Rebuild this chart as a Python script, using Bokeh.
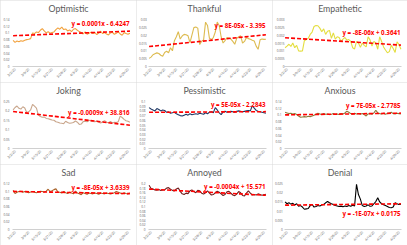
import math
import numpy as np
from bokeh.plotting import figure
from bokeh.layouts import gridplot
from bokeh.models import Range1d
from bokeh.core.properties import value
from bokeh.embed import file_html
from bokeh.resources import INLINE

date_labels = ["3/2/20", "3/9/20", "3/15/20", "3/21/20", "3/28/20",
               "4/3/20", "4/10/20", "4/16/20", "4/22/20", "4/29/20"]
date_positions = [1, 8, 14, 20, 27, 33, 40, 46, 52, 59]

optimistic = [0.078, 0.072, 0.076, 0.074, 0.077, 0.075, 0.078, 0.080, 0.081, 0.083,
              0.100, 0.098, 0.103, 0.101, 0.108, 0.113, 0.106, 0.100, 0.104, 0.099,
              0.101, 0.103, 0.110, 0.115, 0.111, 0.117, 0.110, 0.112, 0.106, 0.109,
              0.104, 0.111, 0.113, 0.108, 0.104, 0.101, 0.097, 0.103, 0.096, 0.099,
              0.102, 0.098, 0.101, 0.095, 0.100, 0.105, 0.098, 0.101, 0.097, 0.094,
              0.100, 0.102, 0.096, 0.099, 0.103, 0.097, 0.093, 0.101, 0.098, 0.096, 0.099]
thankful = [0.0052, 0.0060, 0.0075, 0.0082, 0.0087, 0.0083, 0.0072, 0.0065, 0.0090, 0.0097,
            0.0088, 0.0120, 0.0100, 0.0165, 0.0190, 0.0222, 0.0175, 0.0195, 0.0205, 0.0203,
            0.0196, 0.0152, 0.0200, 0.0248, 0.0252, 0.0245, 0.0140, 0.0162, 0.0170, 0.0283,
            0.0262, 0.0180, 0.0172, 0.0185, 0.0220, 0.0284, 0.0262, 0.0190, 0.0150, 0.0165,
            0.0185, 0.0182, 0.0175, 0.0160, 0.0142, 0.0180, 0.0188, 0.0196, 0.0150, 0.0160,
            0.0185, 0.0178, 0.0174, 0.0168, 0.0163, 0.0130, 0.0110, 0.0170, 0.0176, 0.0173, 0.0174]
empathetic = [0.00120, 0.00130, 0.00142, 0.00128, 0.00150, 0.00120, 0.00135, 0.00100, 0.00098, 0.00100,
              0.00165, 0.00172, 0.00180, 0.00205, 0.00220, 0.00255, 0.00262, 0.00260, 0.00245, 0.00222,
              0.00240, 0.00205, 0.00225, 0.00230, 0.00180, 0.00215, 0.00175, 0.00190, 0.00185, 0.00160,
              0.00175, 0.00185, 0.00168, 0.00172, 0.00160, 0.00120, 0.00112, 0.00160, 0.00150, 0.00122,
              0.00150, 0.00135, 0.00125, 0.00190, 0.00170, 0.00130, 0.00160, 0.00150, 0.00110, 0.00190,
              0.00160, 0.00125, 0.00105, 0.00088, 0.00095, 0.00135, 0.00115, 0.00090, 0.00158, 0.00140, 0.00110]
joking = [0.205, 0.218, 0.226, 0.214, 0.210, 0.222, 0.215, 0.192, 0.195, 0.205,
          0.235, 0.225, 0.215, 0.178, 0.170, 0.166, 0.168, 0.160, 0.158, 0.155,
          0.152, 0.150, 0.142, 0.140, 0.136, 0.134, 0.132, 0.145, 0.138, 0.134,
          0.136, 0.138, 0.146, 0.140, 0.128, 0.130, 0.143, 0.145, 0.142, 0.150,
          0.148, 0.144, 0.142, 0.146, 0.140, 0.136, 0.142, 0.148, 0.140, 0.137,
          0.144, 0.136, 0.139, 0.138, 0.142, 0.172, 0.165, 0.155, 0.148, 0.145, 0.140]
pessimistic = [0.087, 0.084, 0.082, 0.080, 0.085, 0.083, 0.080, 0.082, 0.081, 0.077,
               0.078, 0.075, 0.076, 0.077, 0.074, 0.072, 0.070, 0.069, 0.071, 0.073,
               0.071, 0.074, 0.072, 0.073, 0.074, 0.073, 0.075, 0.074, 0.073, 0.076,
               0.074, 0.077, 0.078, 0.076, 0.087, 0.082, 0.076, 0.072, 0.078, 0.079,
               0.077, 0.078, 0.079, 0.078, 0.077, 0.079, 0.080, 0.079, 0.078, 0.079,
               0.080, 0.081, 0.080, 0.091, 0.086, 0.081, 0.079, 0.078, 0.077, 0.076, 0.075]
anxious = [0.108, 0.106, 0.104, 0.105, 0.103, 0.104, 0.101, 0.097, 0.093, 0.094,
           0.095, 0.094, 0.096, 0.095, 0.097, 0.099, 0.102, 0.105, 0.103, 0.101,
           0.104, 0.102, 0.103, 0.101, 0.102, 0.104, 0.102, 0.103, 0.101, 0.104,
           0.103, 0.106, 0.111, 0.108, 0.104, 0.102, 0.105, 0.103, 0.104, 0.102,
           0.104, 0.101, 0.097, 0.103, 0.104, 0.102, 0.106, 0.114, 0.106, 0.104,
           0.103, 0.105, 0.102, 0.104, 0.106, 0.108, 0.104, 0.103, 0.105, 0.104, 0.103]
sad = [0.102, 0.094, 0.097, 0.099, 0.100, 0.097, 0.099, 0.098, 0.096, 0.098,
       0.099, 0.097, 0.096, 0.098, 0.100, 0.099, 0.098, 0.100, 0.105, 0.099,
       0.101, 0.104, 0.106, 0.098, 0.097, 0.095, 0.099, 0.096, 0.094, 0.097,
       0.095, 0.093, 0.100, 0.095, 0.093, 0.091, 0.096, 0.094, 0.092, 0.095,
       0.094, 0.093, 0.095, 0.094, 0.092, 0.095, 0.094, 0.093, 0.095, 0.094,
       0.093, 0.094, 0.096, 0.099, 0.097, 0.095, 0.093, 0.096, 0.094, 0.093, 0.095]
annoyed = [0.192, 0.178, 0.176, 0.172, 0.171, 0.174, 0.170, 0.172, 0.173, 0.180,
           0.182, 0.175, 0.170, 0.168, 0.176, 0.180, 0.166, 0.155, 0.152, 0.158,
           0.156, 0.168, 0.172, 0.165, 0.160, 0.170, 0.168, 0.158, 0.154, 0.160,
           0.168, 0.158, 0.150, 0.152, 0.160, 0.166, 0.162, 0.155, 0.148, 0.152,
           0.164, 0.166, 0.158, 0.150, 0.147, 0.154, 0.165, 0.160, 0.148, 0.146,
           0.158, 0.168, 0.158, 0.150, 0.152, 0.150, 0.155, 0.152, 0.149, 0.151, 0.153]
denial = [0.0150, 0.0140, 0.0145, 0.0138, 0.0142, 0.0133, 0.0140, 0.0127, 0.0130, 0.0122,
          0.0110, 0.0112, 0.0114, 0.0130, 0.0136, 0.0122, 0.0125, 0.0130, 0.0128, 0.0133,
          0.0136, 0.0145, 0.0152, 0.0145, 0.0140, 0.0136, 0.0130, 0.0128, 0.0125, 0.0127,
          0.0124, 0.0128, 0.0125, 0.0130, 0.0126, 0.0132, 0.0128, 0.0245, 0.0190, 0.0165,
          0.0130, 0.0125, 0.0128, 0.0134, 0.0126, 0.0128, 0.0140, 0.0152, 0.0172, 0.0150,
          0.0140, 0.0135, 0.0130, 0.0125, 0.0120, 0.0118, 0.0122, 0.0145, 0.0140, 0.0136, 0.0138]

titles = ["Optimistic", "Thankful", "Empathetic", "Joking", "Pessimistic",
          "Anxious", "Sad", "Annoyed", "Denial"]
series = [optimistic, thankful, empathetic, joking, pessimistic, anxious, sad, annoyed, denial]
axis_max = [0.14, 0.03, 0.003, 0.25, 0.1, 0.14, 0.12, 0.2, 0.025]
axis_step = [0.02, 0.005, 0.0005, 0.05, 0.01, 0.02, 0.02, 0.02, 0.005]
equations = ["y = 0.0001x - 6.4247", "y = 8E-05x - 3.395", "y = -8E-06x + 0.3641",
             "y = -0.0009x + 38.816", "y = 5E-05x - 2.2843", "y = 7E-05x - 2.7785",
             "y = -8E-05x + 3.6339", "y = -0.0004x + 15.571", "y = -1E-07x + 0.0175"]

# styles
colors = ["#F2A23E", "#DDBB50", "#E4DE40", "#C9A68C", "#1F3864",
          "#8D7A3A", "#A8632A", "#6E1E1E", "#000000"]
eq_frac = [0.91, 0.87, 0.72, 0.76, 0.93, 0.91, 0.91, 0.93, 0.35]

COL_W = [136, 136, 135]
ROW_H = [82, 82, 81]
PL, PT = 12, 19          # plot-area left / top inside each panel (px)
RIGHT_PAD, BOTTOM_PAD = 6, 16
FONT = "Open Sans"
TFONT = "Lato"
GRAY = "#595959"
TICK_FS = 3.1

figs = []
for k in range(9):
    W = COL_W[k % 3]
    H = ROW_H[k // 3]
    PR, PB = W - RIGHT_PAD, H - BOTTOM_PAD
    vals = series[k]
    n = len(vals)
    xs = list(range(n))
    top = axis_max[k]
    x0, x1 = -0.3, n - 0.7
    sx = (x1 - x0) / (PR - PL)
    sy = top / (PB - PT)

    def xd(px):
        return x0 + (px - PL) * sx

    def yd(py):
        return (PB - py) * sy

    p = figure(width=W, height=H, output_backend="svg", toolbar_location=None,
               x_range=Range1d(xd(0), xd(W)), y_range=Range1d(yd(H), yd(0)),
               min_border=0, title=None)
    p.styles = {"outline": "1px solid #d9d9d9", "outline-offset": "-1px"}
    p.outline_line_color = None
    p.background_fill_color = "white"
    p.border_fill_color = "white"
    p.xaxis.visible = False
    p.yaxis.visible = False
    p.xgrid.visible = False
    p.ygrid.visible = False

    # category axis line
    p.line([x0, x1], [0, 0], line_color="#d0d0d0", line_width=1)

    # title
    p.text(x=[xd(W / 2)], y=[yd(8)], text=[titles[k]], text_align="center",
           text_baseline="middle", text_font=value(TFONT), text_font_size="8.8px",
           text_color=GRAY)

    # y tick labels
    ticks = [float(v) for v in np.round(np.arange(0, top + axis_step[k] / 2, axis_step[k]), 6)]
    ylabels = [f"{t:g}" for t in ticks]
    widest = max(len(s) for s in ylabels) * 0.57 * TICK_FS
    yl_right = max(PL - 3, widest + 1.5)
    p.text(x=[xd(yl_right)] * len(ticks), y=ticks, text=ylabels,
           text_align="right", text_baseline="middle", text_font=value(FONT),
           text_font_size=f"{TICK_FS}px", text_color=GRAY)

    # x tick labels (rotated)
    p.text(x=date_positions, y=[yd(PB + 2)] * len(date_positions), text=date_labels,
           angle=math.pi / 4, text_align="right", text_baseline="middle",
           text_font=value(FONT), text_font_size="3.4px", text_color=GRAY)

    p.line(xs, vals, line_color=colors[k], line_width=1.1)

    slope, icpt = np.polyfit(xs, vals, 1)
    p.line([xs[0], xs[-1]], [icpt + slope * xs[0], icpt + slope * xs[-1]],
           line_color="#FF0000", line_width=1.6, line_dash="4 2")

    p.text(x=[xd(PR - 1)], y=[eq_frac[k] * top], text=[equations[k]],
           text_align="right", text_baseline="middle", text_color="#FF0000",
           text_font=value(FONT), text_font_size="6.2px", text_font_style="bold")
    figs.append(p)

grid = gridplot([figs[0:3], figs[3:6], figs[6:9]], toolbar_location=None)
open("out.html", "w").write(file_html(grid, INLINE))
